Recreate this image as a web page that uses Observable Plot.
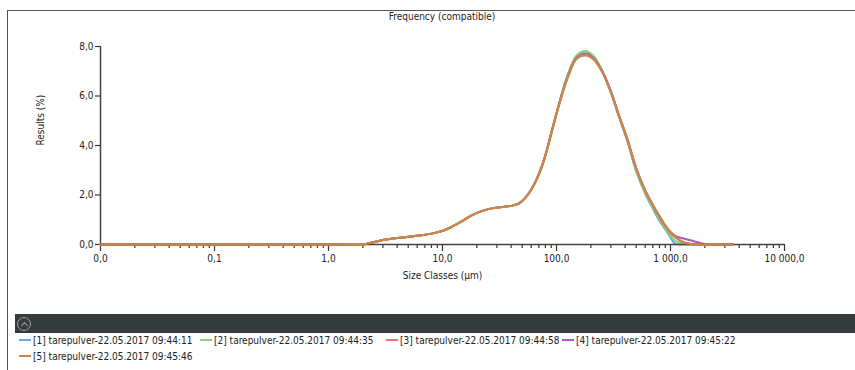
<!DOCTYPE html>
<html>
<head>
<meta charset="utf-8">
<script src="https://cdn.jsdelivr.net/npm/d3@7"></script>
<script src="https://cdn.jsdelivr.net/npm/@observablehq/plot@0.6"></script>
<style>
  body { margin: 0; background: #fff; font-family: "DejaVu Sans Condensed", "DejaVu Sans", sans-serif; }
  #wrap { position: relative; width: 855px; height: 370px; overflow: hidden; }
  #frame { position: absolute; left: 7px; top: 10px; width: 900px; height: 400px; border: 1px solid #555; box-sizing: border-box; }
  #title { position: absolute; top: 11px; left: 100px; width: 684px; text-align: center; font-size: 10px; color: #222; }
  #chart { position: absolute; left: 0; top: 0; }
  #bar { position: absolute; left: 15px; top: 314px; width: 860px; height: 19px; background: #353a3a; }
  #icon { position: absolute; left: 2px; top: 3px; width: 14px; height: 14px; border: 1px solid #a0a5a5; border-radius: 50%; box-sizing: border-box; }
  #icon::after { content: ""; position: absolute; left: 3.5px; top: 4.5px; width: 4px; height: 4px; border-left: 1px solid #a0a5a5; border-top: 1px solid #a0a5a5; transform: rotate(45deg); }
  .item { position: absolute; font-size: 10px; color: #222; white-space: nowrap; line-height: 12px; }
  .sw { display: inline-block; width: 12px; height: 2px; vertical-align: middle; margin-right: 2px; position: relative; top: -1px; }
</style>
</head>
<body>
<div id="wrap">
  <div id="frame"></div>
  <div id="chart"></div>
  <div id="title">Frequency (compatible)</div>
  <div id="bar"><div id="icon"></div></div>
  <div id="legend"></div>
</div>
<script>
// Size classes (µm)
const sizes = [0.01, 0.1, 1, 2.0, 2.4, 3, 4, 5, 6, 8, 10, 12, 15, 18, 22, 27, 33, 40, 47, 55, 65, 77, 90, 105, 125, 150, 180, 210, 250, 300, 350, 420, 500, 600, 700, 800, 950, 1100, 1300, 1500, 1800, 2100, 2500, 3000, 3500];

// Results (%) per run
const run1 = [0,0,0,0,0.08,0.18,0.26,0.31,0.35,0.44,0.55,0.71,0.95,1.18,1.35,1.46,1.51,1.56,1.66,1.97,2.52,3.37,4.52,5.67,6.82,7.62,7.80,7.62,7.05,6.15,5.2,4.15,2.95,2.05,1.45,0.95,0.45,0.03,0,0,0,0,0,0,0];
const run2 = [0,0,0,0,0.08,0.18,0.26,0.31,0.35,0.44,0.55,0.71,0.95,1.18,1.35,1.46,1.51,1.56,1.66,1.97,2.52,3.37,4.52,5.68,6.84,7.64,7.82,7.63,7.05,6.17,5.22,4.17,2.98,2.08,1.5,1.0,0.5,0.15,0.02,0,0,0,0,0,0];
const run3 = [0,0,0,0,0.08,0.18,0.26,0.31,0.35,0.44,0.55,0.71,0.95,1.18,1.35,1.46,1.51,1.56,1.66,1.96,2.51,3.36,4.5,5.65,6.77,7.55,7.72,7.56,7.03,6.18,5.25,4.2,3.05,2.15,1.57,1.1,0.58,0.28,0.1,0.03,0,0,0,0,0];
const run4 = [0,0,0,0,0.08,0.18,0.26,0.31,0.35,0.44,0.55,0.71,0.95,1.18,1.35,1.46,1.51,1.56,1.66,1.96,2.51,3.36,4.5,5.65,6.77,7.54,7.70,7.55,7.03,6.2,5.28,4.25,3.1,2.2,1.6,1.12,0.62,0.35,0.24,0.17,0.07,0,0,0,0];
const run5 = [0,0,0,0,0.08,0.18,0.26,0.31,0.35,0.44,0.55,0.71,0.95,1.18,1.35,1.46,1.51,1.56,1.66,1.95,2.5,3.35,4.48,5.62,6.72,7.5,7.65,7.5,7.0,6.15,5.25,4.22,3.07,2.17,1.6,1.15,0.62,0.3,0.08,0.02,0,0,0,0,0];

const runNames = [
  "[1] tarepulver-22.05.2017 09:44:11",
  "[2] tarepulver-22.05.2017 09:44:35",
  "[3] tarepulver-22.05.2017 09:44:58",
  "[4] tarepulver-22.05.2017 09:45:22",
  "[5] tarepulver-22.05.2017 09:45:46"
];
const runColors = ["#6ea6e0", "#7fd97c", "#ef7370", "#b356c8", "#c98847"];

const xMajor = [0.01, 0.1, 1, 10, 100, 1000, 10000];
const xMinor = xMajor.slice(0, -1).flatMap(d => [2,3,4,5,6,7,8,9].map(k => +(d * k).toPrecision(3)));
const yTicks = [0, 2, 4, 6, 8];

const fmt = v => d3.format(",.1f")(v).replace(/,/g, " ").replace(".", ",");

const series = [run1, run2, run3, run4, run5];
const rows = series.flatMap((vals, i) => sizes.map((s, j) => ({size: s, value: vals[j], run: runNames[i]})));

const chart = Plot.plot({
  width: 855,
  height: 300,
  marginLeft: 100,
  marginRight: 71,
  marginTop: 46,
  marginBottom: 56,
  style: {fontFamily: "'DejaVu Sans Condensed', 'DejaVu Sans', sans-serif", fontSize: "10px", color: "#222", background: "transparent"},
  x: {type: "log", domain: [0.01, 10000]},
  y: {domain: [0, 8]},
  color: {domain: runNames, range: runColors},
  marks: [
    Plot.axisX({ticks: xMinor, tickSize: 4, tickFormat: null, text: null, stroke: "#333", strokeWidth: 1.2, label: null}),
    Plot.axisX({ticks: xMajor, tickSize: 7, tickPadding: 3, tickFormat: fmt, stroke: "#333", strokeWidth: 1.2, label: null}),
    Plot.axisY({ticks: yTicks, tickSize: 5, tickPadding: 2, tickFormat: fmt, stroke: "#333", strokeWidth: 1.2, label: null}),
    Plot.text(["Size Classes (µm)"], {frameAnchor: "bottom", dy: 34, fill: "#222"}),
    Plot.text(["Results (%)"], {frameAnchor: "left", dx: -60, rotate: -90, fill: "#222"}),
    Plot.line(rows, {x: "size", y: "value", z: "run", stroke: "run", strokeWidth: 2, curve: "catmull-rom"}),
    Plot.ruleY([0], {stroke: "#444", strokeWidth: 1.5}),
    Plot.ruleX([0.01], {stroke: "#444", strokeWidth: 1.5}),
    Plot.line(rows.filter(d => d.run === runNames[4]), {x: "size", y: "value", stroke: runColors[4], strokeWidth: 2, curve: "catmull-rom"})
  ]
});
document.getElementById("chart").appendChild(chart);

// Legend
const legendPos = [[19, 335], [200, 335], [386, 335], [562, 335], [19, 351]];
const legend = document.getElementById("legend");
runNames.forEach((name, i) => {
  const el = document.createElement("div");
  el.className = "item";
  el.style.left = legendPos[i][0] + "px";
  el.style.top = legendPos[i][1] + "px";
  el.innerHTML = `<span class="sw" style="background:${runColors[i]}"></span>${name}`;
  legend.appendChild(el);
});
</script>
</body>
</html>
